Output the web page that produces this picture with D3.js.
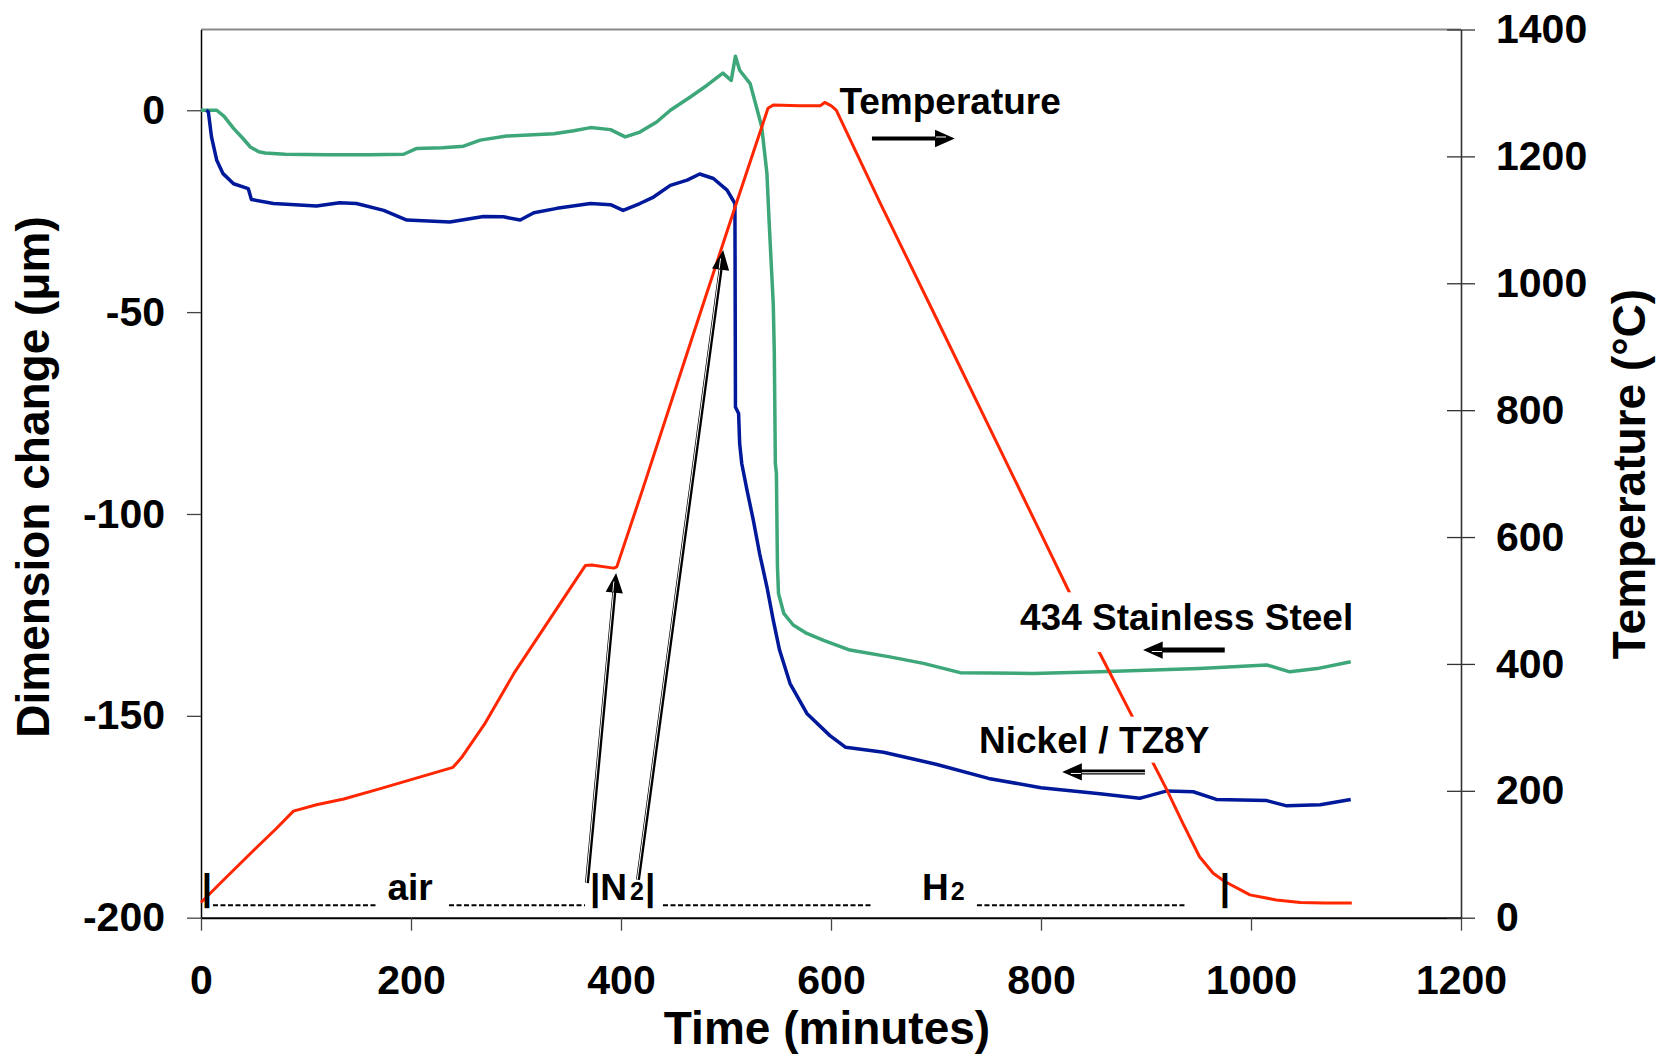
<!DOCTYPE html>
<html>
<head>
<meta charset="utf-8">
<script src="https://cdn.jsdelivr.net/npm/d3@7"></script>
<style>
body { margin: 0; background: #fff; }
svg text { font-family: "Liberation Sans", Arial, sans-serif; font-weight: bold; }
</style>
</head>
<body>
<svg width="1662" height="1058"></svg>
<script>
// tick values
var timeTicks = [0, 200, 400, 600, 800, 1000, 1200];
var dimTicks = [0, -50, -100, -150, -200];
var tempTicks = [0, 200, 400, 600, 800, 1000, 1200, 1400];

// furnace temperature (deg C) vs time (min)
var tempTime = [0, 20, 50, 72, 88, 110, 136, 170, 205, 240, 248, 270, 298, 330, 366, 372, 393, 396, 420, 463, 507, 540, 545, 570, 590, 594, 600, 605, 647, 700, 798, 827, 855, 887, 907, 920, 935, 951, 964, 975, 999, 1024, 1047, 1070, 1096];
var tempC    = [24, 57, 106, 141, 168, 178, 187, 203, 220, 237, 252, 305, 385, 465, 555, 556, 551, 553, 672, 890, 1112, 1276, 1281, 1280, 1280, 1285, 1280, 1273, 1126, 946, 612, 513, 420, 317, 243, 201, 149, 96, 70, 57, 36, 28, 24, 23, 23];

// 434 stainless steel dimension change (um)
var steelTime = [0, 15, 22, 31, 40, 47, 55, 61, 80, 120, 160, 193, 205, 230, 250, 266, 291, 336, 355, 371, 390, 404, 418, 434, 447, 466, 482, 497, 505, 509, 513, 523, 529, 534, 539, 541, 545, 546, 547, 548, 549, 550, 555, 564, 577, 593, 618, 656, 688, 723, 792, 856, 951, 1015, 1037, 1063, 1095];
var steelDim  = [0, 0, -1.5, -4.5, -7, -9.1, -10.3, -10.6, -10.9, -11, -11, -10.9, -9.5, -9.3, -8.9, -7.4, -6.4, -5.8, -5.1, -4.3, -4.8, -6.6, -5.4, -2.9, 0, 3.3, 6.2, 9.2, 7.4, 13.4, 9.9, 6.6, 0.8, -4.1, -15.7, -27.2, -48, -60, -87.5, -90, -113, -119.7, -124.6, -127.5, -129.6, -131.3, -133.7, -135.4, -137, -139.3, -139.5, -139.1, -138.3, -137.4, -139.1, -138.3, -136.6];

// nickel / TZ8Y dimension change (um)
var nickelTime = [5, 7, 10, 15, 21, 31, 45, 48, 69, 110, 132, 148, 174, 196, 237, 269, 288, 304, 317, 339, 371, 390, 402, 418, 431, 447, 463, 475, 488, 501, 508.5, 509, 512, 513, 515, 520, 526, 532, 539, 545, 551, 561, 577, 599, 614, 650, 700, 750, 800, 856, 894, 900, 920, 945, 967, 1015, 1034, 1066, 1095];
var nickelDim  = [0, -0.4, -6.6, -12.4, -15.7, -18.2, -19.4, -22.1, -23.1, -23.7, -22.9, -23.1, -24.8, -27.2, -27.7, -26.3, -26.4, -27.2, -25.4, -24.3, -23.1, -23.4, -24.8, -23.1, -21.5, -18.6, -17.3, -15.8, -16.9, -19.8, -23.1, -73.5, -75.1, -82.5, -87.5, -94.1, -101.5, -109.8, -118.1, -126.3, -133.7, -142, -149.4, -154.9, -157.8, -159, -162, -165.5, -167.8, -169.3, -170.4, -170, -168.6, -168.8, -170.7, -171, -172.3, -172, -170.7];

var svg = d3.select('svg');

var x = d3.scaleLinear().domain([0, 1200]).range([201, 1461]);
var yDim = d3.scaleLinear().domain([-200, 20]).range([917.7, 29.5]);
var yTemp = d3.scaleLinear().domain([0, 1400]).range([917.7, 29.5]);

var fmt = function(d) { return String(d); };

// top frame line
svg.append('line')
    .attr('x1', x(0)).attr('x2', x(1200))
    .attr('y1', yDim(20)).attr('y2', yDim(20))
    .style('stroke', '#8a8a8a')
    .style('stroke-width', 2);

// left axis
var gLeft = svg.append('g')
    .attr('transform', 'translate(' + x(0) + ',0)')
    .call(d3.axisLeft(yDim).tickValues(dimTicks).tickSize(14).tickSizeOuter(0).tickPadding(22).tickFormat(fmt));
gLeft.select('.domain').style('stroke', '#000').style('stroke-width', 1.5);
gLeft.selectAll('.tick line').style('stroke', '#444').style('stroke-width', 1.3);

// bottom axis
var gBottom = svg.append('g')
    .attr('transform', 'translate(0,' + yDim(-200) + ')')
    .call(d3.axisBottom(x).tickValues(timeTicks).tickSize(13).tickSizeOuter(0).tickPadding(34).tickFormat(fmt));
gBottom.select('.domain').style('stroke', '#000').style('stroke-width', 2);
gBottom.selectAll('.tick line').style('stroke', '#444').style('stroke-width', 1.3);

// right axis (temperature)
var gRight = svg.append('g')
    .attr('transform', 'translate(' + x(1200) + ',0)')
    .call(d3.axisRight(yTemp).tickValues(tempTicks).tickSize(14).tickSizeOuter(0).tickPadding(21).tickFormat(fmt));
gRight.select('.domain').style('stroke', '#333').style('stroke-width', 1.6);
gRight.selectAll('.tick line').attr('x1', -14).style('stroke', '#333').style('stroke-width', 1.3);

svg.selectAll('.tick text')
    .style('font-size', '41px')
    .style('font-family', '"Liberation Sans", Arial, sans-serif')
    .style('font-weight', 'bold')
    .style('fill', '#000');

// axis titles
svg.append('text')
    .attr('transform', 'translate(49,477) rotate(-90)')
    .attr('text-anchor', 'middle')
    .style('font-size', '46px')
    .text('Dimension change (\u03bcm)');

svg.append('text')
    .attr('transform', 'translate(1645,474) rotate(-90)')
    .attr('text-anchor', 'middle')
    .style('font-size', '46px')
    .text('Temperature (\u00b0C)');

svg.append('text')
    .attr('x', 827)
    .attr('y', 1044)
    .attr('text-anchor', 'middle')
    .style('font-size', '46px')
    .text('Time (minutes)');

// series
var dimLine = d3.line().x(function(d) { return x(d[0]); }).y(function(d) { return yDim(d[1]); });
var tempLine = d3.line().x(function(d) { return x(d[0]); }).y(function(d) { return yTemp(d[1]); });

svg.append('path')
    .datum(d3.zip(steelTime, steelDim))
    .attr('d', dimLine)
    .style('fill', 'none')
    .style('stroke', '#3da77a')
    .style('stroke-width', 3.5)
    .style('stroke-linejoin', 'round');

svg.append('path')
    .datum(d3.zip(nickelTime, nickelDim))
    .attr('d', dimLine)
    .style('fill', 'none')
    .style('stroke', '#00189a')
    .style('stroke-width', 3.5)
    .style('stroke-linejoin', 'round');

svg.append('path')
    .datum(d3.zip(tempTime, tempC))
    .attr('d', tempLine)
    .style('fill', 'none')
    .style('stroke', '#ff2600')
    .style('stroke-width', 3)
    .style('stroke-linejoin', 'round');

// label boxes (white, they hide the temperature trace behind them)
function box(t1, t2, v1, v2) {
    svg.append('rect')
        .attr('x', x(t1))
        .attr('y', yDim(v1))
        .attr('width', x(t2) - x(t1))
        .attr('height', yDim(v2) - yDim(v1))
        .style('fill', '#fff');
}
box(775, 1115, -119.4, -134.2);
box(737, 972, -150.2, -161.6);

function label(t, v, txt) {
    svg.append('text')
        .attr('x', x(t))
        .attr('y', yDim(v))
        .style('font-size', '37px')
        .text(txt);
}
label(608, -1, 'Temperature');
label(780, -128.7, '434 Stainless Steel');
label(741, -159.3, 'Nickel / TZ8Y');

// arrows
function arrow(t1, v1, t2, v2, w, hollow) {
    var x1 = x(t1), y1 = yDim(v1), x2 = x(t2), y2 = yDim(v2);
    var a = Math.atan2(y2 - y1, x2 - x1);
    var hl = 17, hw = 7.5;
    var bx = x2 - hl * Math.cos(a), by = y2 - hl * Math.sin(a);
    var nx = -Math.sin(a), ny = Math.cos(a);
    var g = svg.append('g');
    g.append('line')
        .attr('x1', x1).attr('y1', y1).attr('x2', bx).attr('y2', by)
        .style('stroke', '#000')
        .style('stroke-width', w);
    if (hollow) {
        g.append('line')
            .attr('x1', x1 - nx * 0.8).attr('y1', y1 - ny * 0.8)
            .attr('x2', bx - nx * 0.8).attr('y2', by - ny * 0.8)
            .style('stroke', '#fff')
            .style('stroke-width', 1);
    }
    g.append('path')
        .attr('d', 'M' + x2 + ',' + y2 + 'L' + (bx + nx * hw) + ',' + (by + ny * hw) + 'L' + (bx - nx * hw) + ',' + (by - ny * hw) + 'Z')
        .style('fill', '#000')
        .style('stroke', '#000')
        .style('stroke-width', 1.5);
    g.append('line')
        .attr('x1', bx - nx * 1.5).attr('y1', by - ny * 1.5)
        .attr('x2', bx + (x2 - bx) * 0.6 - nx * 1.5).attr('y2', by + (y2 - by) * 0.6 - ny * 1.5)
        .style('stroke', '#fff')
        .style('stroke-width', 1);
}
arrow(639, -7, 716, -7, 4, false);
arrow(975, -133.7, 899, -133.7, 5, false);
arrow(899, -163.9, 822, -163.9, 5, true);
arrow(367.6, -191.4, 395.2, -115.1, 4, true);
arrow(416.2, -190.6, 497.1, -35.1, 4, true);

// gas atmosphere bar along the bottom
var gasV = -195.6;
var dashV = -196.9;
var dashRuns = [[11.4, 166.7], [236.2, 365.7], [440, 640], [739, 939]];
dashRuns.forEach(function(r) {
    svg.append('line')
        .attr('x1', x(r[0])).attr('x2', x(r[1]))
        .attr('y1', yDim(dashV)).attr('y2', yDim(dashV))
        .style('stroke', '#000')
        .style('stroke-width', 2)
        .style('stroke-dasharray', '5,2.5');
});

function gas(t, parts, anchor) {
    var tx = svg.append('text')
        .attr('x', x(t))
        .attr('y', yDim(gasV))
        .attr('text-anchor', anchor || 'start')
        .style('font-size', '37px');
    parts.forEach(function(p) {
        tx.append('tspan')
            .attr('dx', p[2] || 0)
            .style('font-size', p[1] + 'px')
            .text(p[0]);
    });
}
gas(5.7, [['|', 37]], 'middle');
gas(177.6, [['air', 37]]);
gas(370.5, [['|N', 37], ['2', 25, 3], ['|', 37, 1]]);
gas(686.7, [['H', 37], ['2', 25, 2]]);
gas(975.2, [['|', 37]], 'middle');
</script>
</body>
</html>
